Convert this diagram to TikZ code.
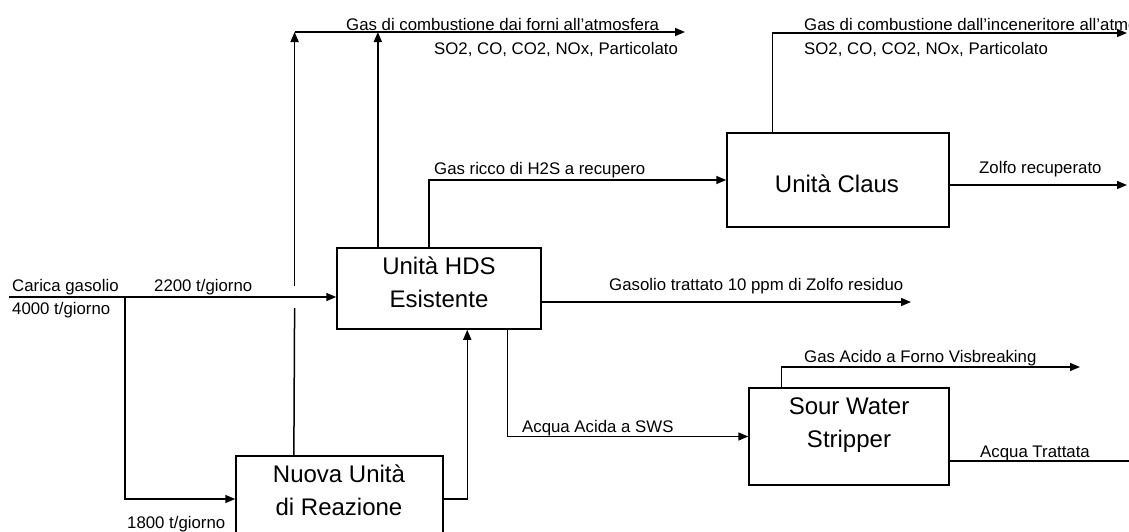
\documentclass[tikz,border=0pt]{standalone}
\usepackage{fontspec}
\setmainfont{Liberation Sans}
\usetikzlibrary{arrows.meta}
\tikzset{
  flow/.style={line width=1.5pt},
  arr/.style={flow,-{Triangle[length=10pt,width=8pt]}},
  unit/.style={draw,line width=1.5pt,inner sep=0pt,fill=white},
  lbl/.style={anchor=base west,inner sep=0pt,font=\fontsize{16.8}{18}\selectfont},
  big/.style={anchor=base,inner sep=0pt,font=\fontsize{24}{28}\selectfont},
}
\begin{document}
\begin{tikzpicture}[x=1pt,y=-1pt]
\useasboundingbox (0,0) rectangle (1129,531);
\clip (0,0) rectangle (1129,531);
% boxes
\node[unit,minimum width=204pt,minimum height=81pt] (hds) at (439,288.5) {};
\node[unit,minimum width=222pt,minimum height=94pt] (claus) at (838,180) {};
\node[unit,minimum width=207pt,minimum height=86pt] (nuova) at (339.5,499) {};
\node[unit,minimum width=200pt,minimum height=97pt] (sws) at (849,436.5) {};
% box texts
\node[big] (hdsA) at (439,274) {Unità HDS};
\node[big] (hdsB) at (439,307) {Esistente};
\node[big] (clausA) at (837,192) {Unità Claus};
\node[big] (nuovaA) at (339,482) {Nuova Unità};
\node[big] (nuovaB) at (339,515) {di Reazione};
\node[big] (swsA) at (849,414) {Sour Water};
\node[big] (swsB) at (849,447) {Stripper};
% free ends
\coordinate (cin) at (9,297);
\coordinate (split) at (125,297);
\coordinate (top1) at (294.6,32);
\coordinate (jlo) at (294.6,308);
\coordinate (jhi) at (294.6,286);
\coordinate (forni) at (685,32);
\coordinate (incen) at (1127,33);
\coordinate (zolfo) at (1127,185);
\coordinate (gasolio) at (911,302);
\coordinate (gacido) at (1080,367);
\coordinate (atratt) at (1129,461);
% connectors
\draw[arr] (cin) -- (cin -| hds.west);
\draw[arr] (split) |- (nuova.west);
\draw[arr] (nuova.east) -| ([xshift=131pt]hds.south west);
\draw[flow] ([xshift=58.6pt]nuova.north west) -- (jlo);
\draw[arr] (jhi) -- (top1);
\draw[arr] ([xshift=41.6pt]hds.north west) -- ([xshift=41.6pt]hds.north west |- top1);
\draw[arr] (top1) -- (forni);
\draw[arr] ([xshift=92.6pt]hds.north west) |- (claus.west);
\draw[arr] ([xshift=46pt]claus.north west) |- (incen);
\draw[arr] (claus.east |- zolfo) -- (zolfo);
\draw[arr] (hds.east |- gasolio) -- (gasolio);
\draw[arr] ([xshift=171pt]hds.south west) |- (sws.west);
\draw[arr] ([xshift=33pt]sws.north west) |- (gacido);
\draw[flow] (sws.east |- atratt) -- (atratt);
% labels
\node[lbl] (l1) at (346,30) {Gas di combustione dai forni all'atmosfera};
\node[lbl] (l2) at (434,54) {SO2, CO, CO2, NOx, Particolato};
\node[lbl] (l3) at (804,30) {Gas di combustione dall'inceneritore all'atmosfera};
\node[lbl] (l4) at (804,54) {SO2, CO, CO2, NOx, Particolato};
\node[lbl] (l5) at (434,174) {Gas ricco di H2S a recupero};
\node[lbl] (l6) at (979,173) {Zolfo recuperato};
\node[lbl] (l7) at (12,291) {Carica gasolio};
\node[lbl] (l8) at (12,314) {4000 t/giorno};
\node[lbl] (l9) at (154,291) {2200 t/giorno};
\node[lbl] (l10) at (127,528) {1800 t/giorno};
\node[lbl] (l11) at (609,290) {Gasolio trattato 10 ppm di Zolfo residuo};
\node[lbl] (l12) at (804,362) {Gas Acido a Forno Visbreaking};
\node[lbl] (l13) at (522,432) {Acqua Acida a SWS};
\node[lbl] (l14) at (980,457) {Acqua Trattata};
\end{tikzpicture}
\end{document}
